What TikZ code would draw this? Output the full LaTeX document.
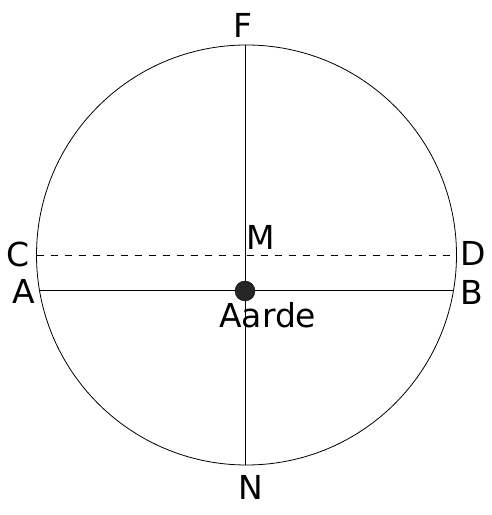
\documentclass[tikz,border=0pt]{standalone}
\usepackage{fontspec}
\setsansfont{DejaVu Sans}
\usepackage{tikz}
\usetikzlibrary{positioning}

\begin{document}
\begin{tikzpicture}[x=1pt, y=1pt,
  orbit/.style={draw=black, line width=0.8pt},
  axis/.style={draw=black, line width=1pt},
  lbl/.style={font=\sffamily\fontsize{33}{33}\selectfont, inner sep=0pt},
  earth/.style={circle, fill=black!85, draw=black, minimum size=20pt, inner sep=0pt},
]
  \useasboundingbox (0,0) rectangle (491,515);
  \coordinate (O) at (246.5,260);
  \draw[orbit] (O) circle (210);

  % points on the circle
  \coordinate (F) at (245,470);
  \coordinate (N) at (245,50);
  \coordinate (C) at (36.5,260);
  \coordinate (D) at (456.5,260);
  \coordinate (A) at (39.6,224);
  \coordinate (B) at (453.4,224);

  \draw[axis] (F) -- (N);
  \draw[axis] (A) -- (B);
  \draw[orbit, dash pattern=on 7pt off 7pt] (C) -- (D);

  \node[earth] (aarde) at (245,224) {};

  \node[lbl] (labF) at (243,490) {F};
  \node[lbl] (labN) at (251,28) {N};
  \node[lbl] (labC) at (18,261) {C};
  \node[lbl] (labD) at (473,262) {D};
  \node[lbl] (labA) at (24,224) {A};
  \node[lbl] (labB) at (472,223) {B};
  \node[lbl] (labM) at (261,278) {M};
  \node[lbl, anchor=north west] (labE) at (219,213) {Aarde};
\end{tikzpicture}
\end{document}
